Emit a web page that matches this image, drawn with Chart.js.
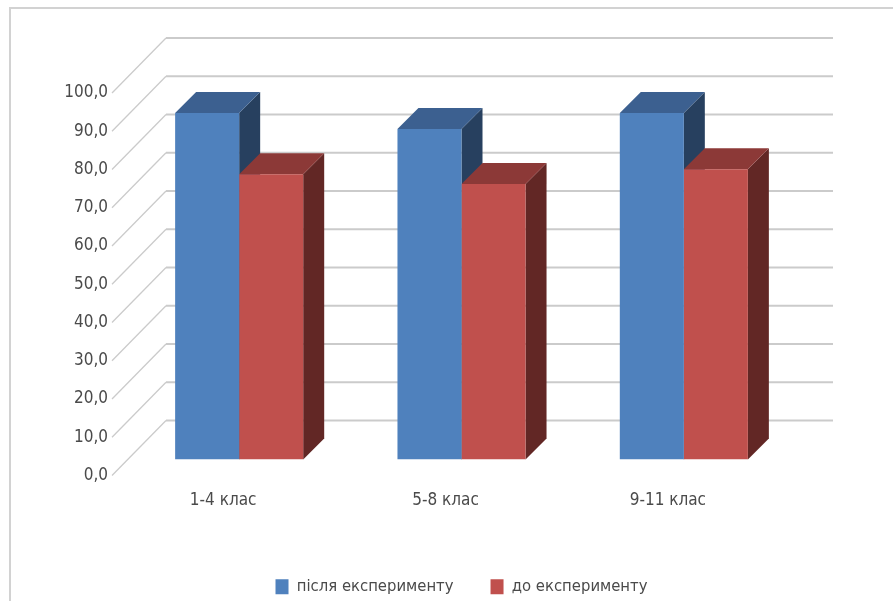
<!DOCTYPE html>
<html lang="uk">
<head>
<meta charset="utf-8">
<title>Результати експерименту</title>
<script src="https://cdn.jsdelivr.net/npm/chart.js@4"></script>
<style>
  html, body { margin: 0; padding: 0; background: #fff; overflow: hidden; height: 601px; }
  canvas { display: block; }
</style>
</head>
<body>
<!-- slightly taller than the page so the wide legend padding fits under the axis -->
<canvas id="resultsChart" width="893" height="605"></canvas>
<script>
const categories = ["1-4 клас", "5-8 клас", "9-11 клас"];
const afterValues = [90.6, 86.4, 90.6];
const beforeValues = [74.6, 72.0, 75.9];
const yTicks = [0, 10, 20, 30, 40, 50, 60, 70, 80, 90, 100];

const FONT = '"DejaVu Sans Condensed", "Liberation Sans", sans-serif';
const TEXT = "#4a4a4a";
const GRID = "#cbcbcb";

// oblique offsets of the fake 3D box, in px
const BAR_DEPTH = 21;
const WALL_DX = 38;
const WALL_DY = 39;
const FLOOR_DX = 16;
const FLOOR_DY = 16;

const faceColors = [
  { top: "#3c6090", side: "#27405f" },
  { top: "#8c3937", side: "#622725" }
];

function fillPoly(ctx, color, pts) {
  ctx.fillStyle = color;
  ctx.beginPath();
  pts.forEach((p, i) => (i ? ctx.lineTo(p[0], p[1]) : ctx.moveTo(p[0], p[1])));
  ctx.closePath();
  ctx.fill();
}

const box3d = {
  id: "box3d",
  beforeDatasetsDraw(chart) {
    const { ctx, chartArea, scales } = chart;
    ctx.save();

    // outer frame, open at the right and bottom
    ctx.strokeStyle = "#d2d2d2";
    ctx.lineWidth = 2;
    ctx.beginPath();
    ctx.moveTo(10, 605);
    ctx.lineTo(10, 8);
    ctx.lineTo(893, 8);
    ctx.stroke();

    // back wall grid with the oblique run to the axis labels
    ctx.strokeStyle = GRID;
    yTicks.forEach(v => {
      const y = scales.y.getPixelForValue(v);
      ctx.lineWidth = 1.3;
      ctx.beginPath();
      ctx.moveTo(chartArea.left - FLOOR_DX, y + FLOOR_DY);
      ctx.lineTo(chartArea.left + WALL_DX, y - WALL_DY);
      ctx.stroke();
      ctx.lineWidth = 2;
      ctx.beginPath();
      ctx.moveTo(chartArea.left + WALL_DX, y - WALL_DY);
      ctx.lineTo(chartArea.right + WALL_DX, y - WALL_DY);
      ctx.stroke();
    });

    // side and top faces, the native bars supply the fronts
    chart.data.datasets.forEach((ds, i) => {
      chart.getDatasetMeta(i).data.forEach(bar => {
        const l = bar.x - bar.width / 2;
        const r = bar.x + bar.width / 2;
        fillPoly(ctx, faceColors[i].side, [
          [r, bar.y], [r + BAR_DEPTH, bar.y - BAR_DEPTH],
          [r + BAR_DEPTH, bar.base - BAR_DEPTH], [r, bar.base]
        ]);
        fillPoly(ctx, faceColors[i].top, [
          [l, bar.y], [l + BAR_DEPTH, bar.y - BAR_DEPTH],
          [r + BAR_DEPTH, bar.y - BAR_DEPTH], [r, bar.y]
        ]);
      });
    });
    ctx.restore();
  }
};

document.addEventListener("DOMContentLoaded", () => {
  const ctx = document.getElementById("resultsChart").getContext("2d");
  new Chart(ctx, {
    type: "bar",
    data: {
      labels: categories,
      datasets: [
        { label: "після експерименту", data: afterValues, backgroundColor: "#4f81bd" },
        { label: "до експерименту", data: beforeValues, backgroundColor: "#c0504d" }
      ]
    },
    plugins: [box3d],
    options: {
      responsive: false,
      animation: false,
      layout: { padding: { top: 77, right: 98, left: 19, bottom: 0 } },
      datasets: { bar: { categoryPercentage: 0.576, barPercentage: 1 } },
      plugins: {
        tooltip: { enabled: false },
        legend: {
          position: "bottom",
          fullSize: false,
          labels: {
            color: TEXT,
            font: { family: FONT, size: 16.5 },
            boxWidth: 13,
            boxHeight: 15,
            padding: 37
          }
        }
      },
      scales: {
        x: {
          grid: { display: false },
          border: { display: false },
          ticks: {
            color: TEXT,
            font: { family: FONT, size: 17 },
            labelOffset: -FLOOR_DX,
            padding: 23,
            maxRotation: 0
          },
          afterFit: scale => { scale.height = 82; }
        },
        y: {
          min: 0,
          max: 100,
          grid: { display: false, drawTicks: false },
          border: { display: false },
          ticks: {
            stepSize: 10,
            color: TEXT,
            font: { family: FONT, size: 17 },
            padding: 20,
            labelOffset: FLOOR_DY,
            callback: v => v.toFixed(1).replace(".", ",")
          },
          afterFit: scale => { scale.width = 109; }
        }
      }
    }
  });
});
</script>
</body>
</html>
